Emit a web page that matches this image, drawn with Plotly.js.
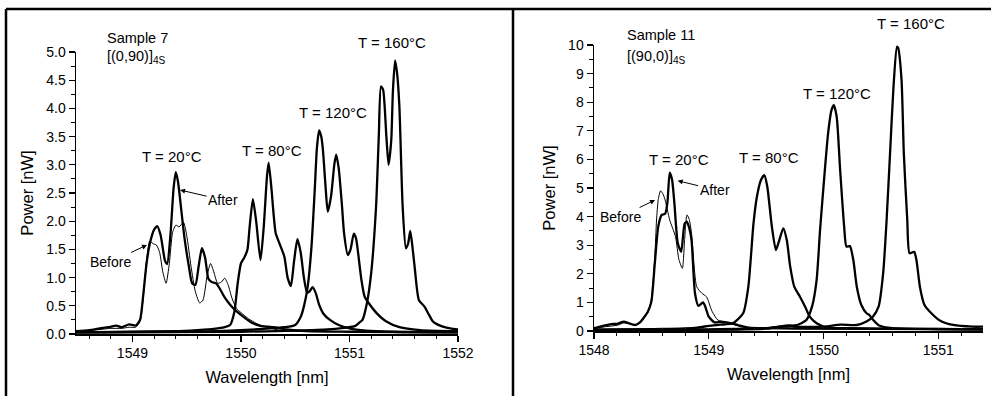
<!DOCTYPE html>
<html>
<head>
<meta charset="utf-8">
<script src="https://cdn.plot.ly/plotly-3.0.1.min.js"></script>
<style>html,body{margin:0;padding:0;background:#fff;}#chart{width:991px;height:396px;}</style>
</head>
<body>
<div id="chart"></div>
<script>
// ---------- Left panel: Sample 7 [(0,90)]4S ----------
const s7_20after_x = [1548.48,1548.6,1548.7,1548.78,1548.85,1548.9,1548.97,1549.03,1549.07,1549.1,1549.13,1549.16,1549.2,1549.23,1549.26,1549.3,1549.32,1549.35,1549.38,1549.4,1549.42,1549.45,1549.48,1549.52,1549.55,1549.58,1549.61,1549.64,1549.67,1549.7,1549.73,1549.77,1549.8,1549.85,1549.9,1549.95,1550.0,1550.1,1550.17,1550.25,1550.3,1550.42,1550.6,1551.0,1552.0];
const s7_20after_y = [0.05,0.07,0.1,0.12,0.15,0.12,0.17,0.15,0.25,0.7,1.25,1.6,1.85,1.91,1.75,1.3,1.24,1.75,2.6,2.87,2.7,2.2,1.7,1.2,0.9,0.87,1.2,1.52,1.35,0.98,0.92,0.9,0.82,0.65,0.52,0.42,0.34,0.2,0.15,0.13,0.12,0.08,0.05,0.04,0.03];

const s7_20before_x = [1548.48,1548.6,1548.7,1548.8,1548.9,1548.97,1549.03,1549.07,1549.1,1549.13,1549.16,1549.19,1549.22,1549.25,1549.28,1549.31,1549.34,1549.37,1549.4,1549.43,1549.47,1549.5,1549.54,1549.58,1549.62,1549.65,1549.69,1549.72,1549.75,1549.785,1549.82,1549.85,1549.88,1549.92,1549.96,1550.0,1550.07,1550.14,1550.2,1550.28,1550.35,1550.5,1551.0,1552.0];
const s7_20before_y = [0.04,0.06,0.08,0.1,0.1,0.12,0.12,0.22,0.65,1.3,1.65,1.6,1.58,1.45,1.1,0.9,1.25,1.8,1.93,1.9,1.98,1.75,1.2,0.75,0.55,0.6,1.05,1.25,1.1,0.9,0.92,0.99,0.88,0.62,0.45,0.38,0.27,0.19,0.14,0.1,0.07,0.05,0.04,0.03];

const s7_80_x = [1548.48,1549.0,1549.4,1549.6,1549.75,1549.85,1549.9,1549.94,1549.97,1550.0,1550.03,1550.06,1550.08,1550.11,1550.14,1550.18,1550.21,1550.24,1550.255,1550.28,1550.32,1550.36,1550.4,1550.43,1550.46,1550.49,1550.52,1550.55,1550.58,1550.61,1550.63,1550.66,1550.69,1550.72,1550.76,1550.82,1550.9,1551.0,1551.15,1551.4,1552.0];
const s7_80_y = [0.03,0.04,0.05,0.07,0.09,0.12,0.16,0.4,0.9,1.25,1.35,1.5,1.9,2.39,2.0,1.31,1.9,2.8,3.04,2.6,1.79,1.58,1.37,1.0,0.85,1.3,1.68,1.45,1.0,0.73,0.75,0.83,0.72,0.52,0.36,0.25,0.16,0.1,0.06,0.04,0.03];

const s7_120_x = [1548.48,1549.5,1549.9,1550.2,1550.4,1550.5,1550.55,1550.58,1550.615,1550.65,1550.68,1550.7,1550.72,1550.74,1550.755,1550.78,1550.8,1550.83,1550.86,1550.877,1550.9,1550.93,1550.95,1550.985,1551.01,1551.04,1551.06,1551.08,1551.11,1551.14,1551.18,1551.25,1551.34,1551.46,1551.65,1552.0];
const s7_120_y = [0.03,0.04,0.06,0.09,0.12,0.16,0.3,0.49,0.84,1.55,2.56,3.3,3.61,3.5,3.27,2.6,2.17,2.44,3.0,3.18,2.95,2.3,1.79,1.4,1.5,1.78,1.7,1.43,0.96,0.66,0.54,0.37,0.22,0.12,0.07,0.05];

const s7_160_x = [1548.48,1550.0,1550.5,1550.8,1550.95,1551.05,1551.09,1551.12,1551.16,1551.2,1551.245,1551.27,1551.29,1551.31,1551.34,1551.36,1551.385,1551.4,1551.42,1551.44,1551.46,1551.49,1551.52,1551.54,1551.56,1551.58,1551.6,1551.64,1551.69,1551.73,1551.77,1551.86,1551.93,1552.0];
const s7_160_y = [0.03,0.04,0.06,0.08,0.11,0.14,0.2,0.25,0.54,1.08,2.26,3.5,4.39,4.33,3.5,3.0,3.44,4.3,4.85,4.6,4.03,2.26,1.52,1.6,1.83,1.55,1.2,0.6,0.49,0.35,0.22,0.13,0.1,0.08];

// ---------- Right panel: Sample 11 [(90,0)]4S ----------
const s11_20after_x = [1548.0,1548.08,1548.15,1548.2,1548.26,1548.3,1548.36,1548.4,1548.44,1548.47,1548.5,1548.53,1548.56,1548.59,1548.62,1548.64,1548.66,1548.68,1548.7,1548.73,1548.76,1548.79,1548.81,1548.83,1548.85,1548.88,1548.91,1548.95,1548.97,1549.0,1549.05,1549.1,1549.15,1549.2,1549.26,1549.35,1549.5,1550.0,1551.39];
const s11_20after_y = [0.1,0.18,0.24,0.25,0.33,0.28,0.21,0.3,0.5,0.68,1.03,2.37,3.65,4.06,4.1,4.5,5.54,5.3,4.5,3.07,2.77,3.76,3.82,3.6,3.18,1.32,0.88,1.0,0.85,0.5,0.3,0.32,0.3,0.27,0.2,0.12,0.1,0.08,0.06];

const s11_20before_x = [1548.0,1548.1,1548.2,1548.26,1548.3,1548.36,1548.4,1548.44,1548.47,1548.5,1548.53,1548.545,1548.56,1548.58,1548.6,1548.62,1548.66,1548.71,1548.74,1548.77,1548.79,1548.81,1548.83,1548.85,1548.895,1548.94,1548.98,1549.03,1549.08,1549.14,1549.22,1549.3,1549.5,1550.0,1551.39];
const s11_20before_y = [0.08,0.15,0.2,0.28,0.25,0.2,0.28,0.48,0.65,1.1,2.6,3.88,4.6,4.9,4.8,4.58,3.88,3.3,2.5,2.19,3.2,4.06,3.9,3.41,1.55,1.32,1.2,0.68,0.38,0.33,0.22,0.14,0.1,0.07,0.05];

const s11_80_x = [1548.0,1548.6,1548.9,1549.0,1549.1,1549.21,1549.3,1549.345,1549.39,1549.42,1549.455,1549.485,1549.51,1549.55,1549.585,1549.615,1549.65,1549.68,1549.71,1549.745,1549.795,1549.84,1549.88,1549.94,1550.03,1550.2,1550.5,1551.39];
const s11_80_y = [0.05,0.07,0.12,0.18,0.22,0.27,0.62,1.55,3.76,4.7,5.28,5.45,5.05,3.65,2.83,3.18,3.59,3.18,2.25,1.55,1.2,0.85,0.5,0.27,0.12,0.1,0.08,0.06];

const s11_120_x = [1548.0,1549.0,1549.5,1549.7,1549.77,1549.85,1549.9,1549.94,1549.97,1550.0,1550.04,1550.07,1550.09,1550.115,1550.145,1550.18,1550.2,1550.23,1550.26,1550.29,1550.33,1550.375,1550.4,1550.42,1550.49,1550.6,1551.0,1551.39];
const s11_120_y = [0.04,0.06,0.1,0.18,0.21,0.38,0.85,1.78,3.53,5.05,6.91,7.73,7.9,7.49,5.63,3.65,2.95,2.97,2.48,1.55,0.91,0.62,0.56,0.45,0.18,0.1,0.07,0.06];

const s11_160_x = [1548.0,1549.5,1549.7,1549.75,1550.0,1550.15,1550.29,1550.375,1550.43,1550.48,1550.52,1550.55,1550.58,1550.61,1550.64,1550.65,1550.68,1550.7,1550.73,1550.75,1550.79,1550.81,1550.84,1550.88,1550.94,1551.01,1551.13,1551.3,1551.39];
const s11_160_y = [0.04,0.08,0.2,0.15,0.15,0.22,0.21,0.33,0.5,0.85,2.02,3.88,6.21,8.54,9.94,9.9,8.78,6.21,3.88,2.72,2.77,2.48,1.55,0.91,0.62,0.38,0.21,0.15,0.15];

// ---------- Labels ----------
const leftTickVals = [1549, 1550, 1551, 1552];
const rightTickVals = [1548, 1549, 1550, 1551];
const tempLabels = ['T = 20°C', 'T = 80°C', 'T = 120°C', 'T = 160°C'];

// ---------- Styling / layout ----------
const FONT = 'Arial, "Liberation Sans", Helvetica, sans-serif';
const W = 991, H = 396;
const px = v => v / W;
const py = v => 1 - v / H;
const THICK = 2.3, THIN = 1;

function tr(x, y, w, ax) {
  return {x: x, y: y, type: 'scatter', mode: 'lines',
    line: {color: '#000', width: w, shape: 'spline', smoothing: 0.6},
    xaxis: ax[0], yaxis: ax[1], hoverinfo: 'skip', showlegend: false};
}

const data = [
  tr(s7_20before_x, s7_20before_y, THIN, ['x','y']),
  tr(s7_20after_x, s7_20after_y, THICK, ['x','y']),
  tr(s7_80_x, s7_80_y, THICK, ['x','y']),
  tr(s7_120_x, s7_120_y, THICK, ['x','y']),
  tr(s7_160_x, s7_160_y, THICK, ['x','y']),
  tr(s11_20before_x, s11_20before_y, THIN, ['x2','y2']),
  tr(s11_20after_x, s11_20after_y, THICK, ['x2','y2']),
  tr(s11_80_x, s11_80_y, THICK, ['x2','y2']),
  tr(s11_120_x, s11_120_y, THICK, ['x2','y2']),
  tr(s11_160_x, s11_160_y, THICK, ['x2','y2'])
];

function xax(domain, range, tickvals, anchor) {
  return {domain: domain, range: range, anchor: anchor, tickvals: tickvals,
    showline: true, linecolor: '#000', linewidth: 1.5, mirror: false,
    ticks: 'outside', ticklen: 6, tickwidth: 1.2, tickcolor: '#000',
    minor: {dtick: 0.2, tick0: 1548, ticks: 'outside', ticklen: 3.5, tickwidth: 1, tickcolor: '#000', showgrid: false},
    showgrid: false, zeroline: false, tickfont: {family: FONT, size: 14, color: '#000'},
    title: {text: 'Wavelength [nm]', font: {family: FONT, size: 16.5, color: '#000'}, standoff: 11}};
}
function yax(domain, range, dtick, fmt, minor, anchor) {
  return {domain: domain, range: range, anchor: anchor, dtick: dtick, tick0: 0, tickformat: fmt,
    showline: true, linecolor: '#000', linewidth: 1.5, mirror: false,
    ticks: 'outside', ticklen: 6, tickwidth: 1.2, tickcolor: '#000',
    minor: {dtick: minor, ticks: 'outside', ticklen: 3.5, tickwidth: 1, tickcolor: '#000', showgrid: false},
    showgrid: false, zeroline: false, tickfont: {family: FONT, size: 14, color: '#000'},
    title: {text: 'Power [nW]', font: {family: FONT, size: 16.5, color: '#000'}, standoff: 8}};
}

function txt(x, y, t, size, xref, yref, anchor) {
  return {x: x, y: y, xref: xref, yref: yref, text: t, showarrow: false,
    xanchor: anchor || 'center', yanchor: 'middle',
    font: {family: FONT, size: size, color: '#000'}};
}
// label placed by pixel position on the page (for texts above the plot area)
function ptxt(xp, yp, t, size, anchor) {
  return txt(px(xp), py(yp), t, size, 'paper', 'paper', anchor);
}
// label with a pointer arrow: (x, y) is the arrow head on the curve, (ax, ay) the label offset in px
function ptr(x, y, ax, ay, t, xref, yref) {
  return {x: x, y: y, xref: xref, yref: yref, text: t, showarrow: true,
    font: {family: FONT, size: 14, color: '#000'}, borderpad: 1,
    ax: ax, ay: ay, arrowhead: 2, arrowsize: 1, arrowwidth: 1, arrowcolor: '#000', standoff: 0, startstandoff: 0};
}

const annotations = [
  // left
  ptxt(105, 38, 'Sample 7', 14.5, 'left'),
  ptxt(105, 57, '[(0,90)]<sub>4S</sub>', 14.5, 'left'),
  txt(1549.365, 3.14, tempLabels[0], 15, 'x', 'y'),
  txt(1550.286, 3.26, tempLabels[1], 15, 'x', 'y'),
  txt(1550.849, 3.92, tempLabels[2], 15, 'x', 'y'),
  ptxt(392, 42, tempLabels[3], 15),
  ptr(1549.439, 2.553, 43, 10, 'After', 'x', 'y'),
  ptr(1549.134, 1.578, -36, 17, 'Before', 'x', 'y'),
  // right
  ptxt(625, 35, 'Sample 11', 14.5, 'left'),
  ptxt(625, 57, '[(90,0)]<sub>4S</sub>', 14.5, 'left'),
  txt(1548.745, 5.98, tempLabels[0], 15, 'x2', 'y2'),
  txt(1549.525, 6.05, tempLabels[1], 15, 'x2', 'y2'),
  txt(1550.118, 8.32, tempLabels[2], 15, 'x2', 'y2'),
  ptxt(911, 24, tempLabels[3], 15),
  ptr(1548.729, 5.255, 37, 9, 'After', 'x2', 'y2'),
  ptr(1548.532, 4.58, -35, 17, 'Before', 'x2', 'y2')
];

const borderLine = {color: '#000', width: 2.5};
const shapes = [
  {type: 'line', xref: 'paper', yref: 'paper', x0: px(6), x1: 1, y0: py(9), y1: py(9), line: borderLine},
  {type: 'line', xref: 'paper', yref: 'paper', x0: px(6), x1: px(6), y0: 0, y1: py(9), line: borderLine},
  {type: 'line', xref: 'paper', yref: 'paper', x0: px(513), x1: px(513), y0: 0, y1: py(9), line: borderLine}
];

const layout = {
  width: W, height: H,
  margin: {l: 0, r: 0, t: 0, b: 0},
  paper_bgcolor: '#fff', plot_bgcolor: '#fff',
  showlegend: false,
  font: {family: FONT, color: '#000'},
  xaxis: xax([px(76), px(458)], [1548.48, 1552], leftTickVals, 'y'),
  yaxis: yax([py(334), py(52)], [0, 5], 0.5, '.1f', 0.25, 'x'),
  xaxis2: xax([px(594), px(983)], [1548, 1551.39], rightTickVals, 'y2'),
  yaxis2: yax([py(331), py(45)], [0, 10], 1, 'd', 0.5, 'x2'),
  annotations: annotations,
  shapes: shapes
};

Plotly.newPlot('chart', data, layout, {staticPlot: true, displayModeBar: false});
</script>
</body>
</html>
